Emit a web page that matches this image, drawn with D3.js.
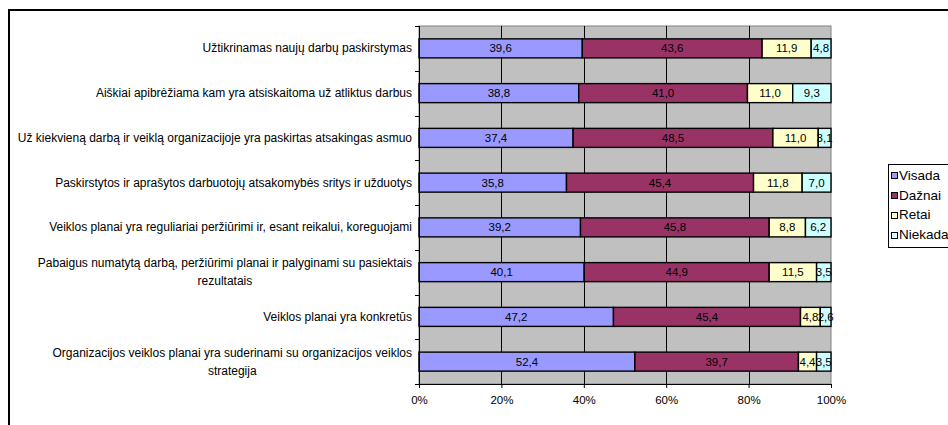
<!DOCTYPE html>
<html>
<head>
<meta charset="utf-8">
<script src="https://cdn.jsdelivr.net/npm/d3@7"></script>
<style>
  html, body { margin: 0; padding: 0; background: #fff; }
  svg { display: block; font-family: "Liberation Sans", Arial, sans-serif; }
</style>
</head>
<body>
<svg id="chart" width="948" height="425"></svg>
<script>
// Survey statements (line breaks mark where long labels wrap)
const categories = [
  "Užtikrinamas naujų darbų paskirstymas",
  "Aiškiai apibrėžiama kam yra atsiskaitoma už atliktus darbus",
  "Už kiekvieną darbą ir veiklą organizacijoje yra paskirtas atsakingas asmuo",
  "Paskirstytos ir aprašytos darbuotojų atsakomybės sritys ir užduotys",
  "Veiklos planai yra reguliariai peržiūrimi ir, esant reikalui, koreguojami",
  "Pabaigus numatytą darbą, peržiūrimi planai ir palyginami su pasiektais\nrezultatais",
  "Veiklos planai yra konkretūs",
  "Organizacijos veiklos planai yra suderinami su organizacijos veiklos\nstrategija"
];

const seriesNames = ["Visada", "Dažnai", "Retai", "Niekada"];

// Answer shares, percent
const visada  = [39.6, 38.8, 37.4, 35.8, 39.2, 40.1, 47.2, 52.4];
const daznai  = [43.6, 41.0, 48.5, 45.4, 45.8, 44.9, 45.4, 39.7];
const retai   = [11.9, 11.0, 11.0, 11.8, 8.8, 11.5, 4.8, 4.4];
const niekada = [4.8, 9.3, 3.1, 7.0, 6.2, 3.5, 2.6, 3.5];

const xTicks = [0, 0.2, 0.4, 0.6, 0.8, 1];
const xTickLabels = ["0%", "20%", "40%", "60%", "80%", "100%"];

const colors = ["#9999FF", "#993366", "#FFFFCC", "#CCFFFF"];

const seriesValues = [visada, daznai, retai, niekada];
const rows = categories.map((c, i) => {
  const r = { cat: c };
  seriesNames.forEach((s, k) => { r[s] = seriesValues[k][i]; });
  return r;
});

const svg = d3.select("#chart");

// Outer chart frame
svg.append("rect")
  .attr("x", 9).attr("y", 10).attr("width", 1000).attr("height", 500)
  .attr("fill", "#fff").attr("stroke", "#000").attr("stroke-width", 2);

const plot = { left: 419, right: 831, top: 26, bottom: 384 };

const x = d3.scaleLinear().domain([0, 1]).range([plot.left, plot.right]);
const y = d3.scaleBand().domain(categories).range([plot.top, plot.bottom])
  .paddingInner(0.575).paddingOuter(0.2875);

// Plot background
svg.append("rect")
  .attr("x", plot.left).attr("y", plot.top)
  .attr("width", plot.right - plot.left).attr("height", plot.bottom - plot.top)
  .attr("fill", "#C0C0C0").attr("stroke", "#808080").attr("stroke-width", 1);

// Vertical gridlines
svg.append("g").selectAll("line")
  .data(xTicks.slice(1, -1))
  .join("line")
  .attr("x1", d => Math.round(x(d)) + 0.5).attr("x2", d => Math.round(x(d)) + 0.5)
  .attr("y1", plot.top).attr("y2", plot.bottom)
  .attr("stroke", "#000").attr("stroke-width", 1);

// 100% stacked bars
const stack = d3.stack().keys(seriesNames).offset(d3.stackOffsetExpand);
const layers = stack(rows);

const fmt = v => d3.format(".1f")(v).replace(".", ",");

const g = svg.append("g");
layers.forEach((layer, k) => {
  g.append("g").selectAll("rect")
    .data(layer)
    .join("rect")
    .attr("x", d => x(d[0]))
    .attr("y", d => y(d.data.cat))
    .attr("width", d => x(d[1]) - x(d[0]))
    .attr("height", y.bandwidth())
    .attr("fill", colors[k])
    .attr("stroke", "#000").attr("stroke-width", 1.4);
});

// Value labels centred in each segment
layers.forEach((layer, k) => {
  g.append("g").selectAll("text")
    .data(layer)
    .join("text")
    .attr("x", d => (x(d[0]) + x(d[1])) / 2)
    .attr("y", d => y(d.data.cat) + y.bandwidth() / 2)
    .attr("text-anchor", "middle")
    .attr("dominant-baseline", "central")
    .attr("font-size", 11.5)
    .attr("fill", "#000")
    .text(d => fmt(d.data[seriesNames[k]]));
});

// Bottom axis
const xAxis = d3.axisBottom(x).tickValues(xTicks)
  .tickFormat((d, i) => xTickLabels[i]).tickSize(4).tickPadding(8);
const xa = svg.append("g").attr("transform", `translate(0,${plot.bottom})`).call(xAxis);
xa.select(".domain").attr("stroke", "#000");
xa.selectAll(".tick line").attr("stroke", "#000");
xa.selectAll("text").attr("font-size", 11.5).attr("font-family", "Liberation Sans, Arial, sans-serif").attr("fill", "#000");

// Left axis: line plus ticks at category boundaries
const yBounds = d3.range(categories.length + 1).map(i => plot.top + i * y.step());
svg.append("line")
  .attr("x1", plot.left + 0.5).attr("x2", plot.left + 0.5)
  .attr("y1", plot.top).attr("y2", plot.bottom + 4)
  .attr("stroke", "#000");
svg.append("g").selectAll("line")
  .data(yBounds)
  .join("line")
  .attr("x1", plot.left - 4).attr("x2", plot.left)
  .attr("y1", d => Math.round(d) + 0.5).attr("y2", d => Math.round(d) + 0.5)
  .attr("stroke", "#000");

// Category labels, multi-line ones centred as a block
const labelRight = 412;
const lineGap = 18;
categories.forEach(c => {
  const lines = c.split("\n");
  const cy = y(c) + y.bandwidth() / 2;
  const t = svg.append("text")
    .attr("font-size", 12).attr("fill", "#000")
    .attr("dominant-baseline", "central");
  lines.forEach((ln, j) => {
    t.append("tspan").attr("y", cy + (j - (lines.length - 1) / 2) * lineGap).text(ln);
  });
  if (lines.length === 1) {
    t.attr("text-anchor", "end").selectAll("tspan").attr("x", labelRight);
  } else {
    const w = d3.max(t.selectAll("tspan").nodes(), n => n.getComputedTextLength());
    t.attr("text-anchor", "middle").selectAll("tspan").attr("x", labelRight - w / 2);
  }
});

// Legend
const lg = svg.append("g");
lg.append("rect")
  .attr("x", 888.5).attr("y", 164.5).attr("width", 100).attr("height", 83)
  .attr("fill", "#fff").attr("stroke", "#000").attr("stroke-width", 1);
seriesNames.forEach((s, k) => {
  const cy = 175.3 + k * 19.8;
  lg.append("rect")
    .attr("x", 891.5).attr("y", Math.round(cy - 3) + 0.5).attr("width", 6).attr("height", 6)
    .attr("fill", colors[k]).attr("stroke", "#000").attr("stroke-width", 1);
  lg.append("text")
    .attr("x", 899).attr("y", cy)
    .attr("dominant-baseline", "central")
    .attr("font-size", 13.5).attr("fill", "#000")
    .text(s);
});
</script>
</body>
</html>
